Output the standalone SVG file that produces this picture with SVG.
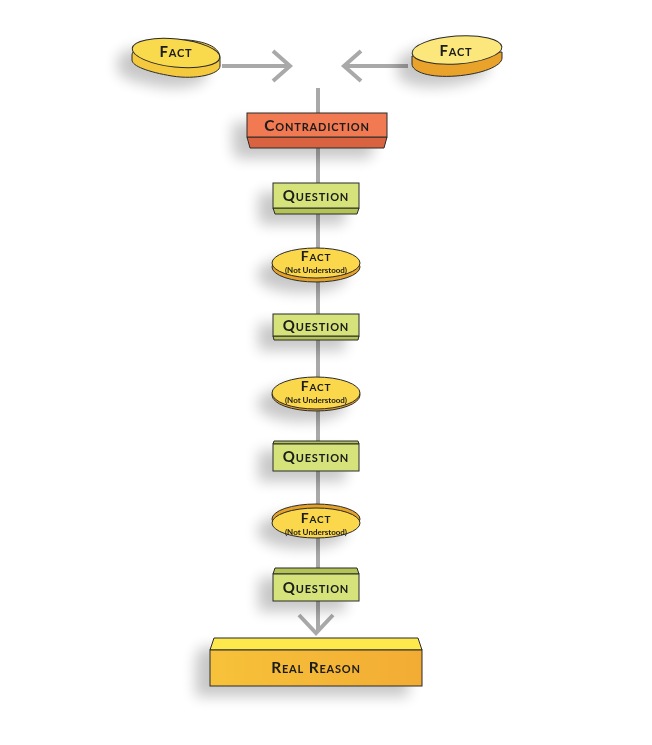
<svg xmlns="http://www.w3.org/2000/svg" width="652" height="745" viewBox="0 0 652 745">
<defs>
<filter id="sh" x="-50%" y="-50%" width="200%" height="250%">
<feGaussianBlur in="SourceAlpha" stdDeviation="7"/>
<feOffset dx="-14" dy="10" result="b"/>
<feComponentTransfer><feFuncA type="linear" slope="0.22"/></feComponentTransfer>
<feMerge><feMergeNode/><feMergeNode in="SourceGraphic"/></feMerge>
</filter>
<linearGradient id="rr" x1="0" y1="0" x2="1" y2="0">
<stop offset="0" stop-color="#f7c23a"/><stop offset="1" stop-color="#f2ac34"/>
</linearGradient>
</defs>
<style>
.t{font-family:"Lato","Liberation Sans",sans-serif;font-weight:bold;font-variant:small-caps;fill:#1a1a1a;text-anchor:middle;letter-spacing:0.8px}
.s{font-family:"Lato","Liberation Sans",sans-serif;font-weight:bold;fill:#1a1a1a;text-anchor:middle;font-size:8px}
.ln{stroke:#a9a9a9;stroke-width:4;fill:none;stroke-linecap:butt}
.ed{stroke:#2a2a2a;stroke-width:1}
.q{fill:#d5e37a}
.qb{fill:#b3c455}
.fy{fill:#fbd84c}
.fo{fill:#e6a228}
</style>
<rect width="652" height="745" fill="#ffffff"/>
<g id="connectors">
<line class="ln" x1="318" y1="88" x2="318" y2="632" stroke="#c4c4c4"/>
<line class="ln" x1="222" y1="66" x2="290" y2="66"/>
<polyline class="ln" points="273,51 290,66 273,81"/>
<line class="ln" x1="408" y1="66" x2="344" y2="66"/>
<polyline class="ln" points="361,51 344,66 361,81"/>
<polyline class="ln" points="299,615 316,633 333,615"/>
</g>
<g id="fact-left" filter="url(#sh)">
<path d="M132,55 C132,45 165,38 188,40 C208,42 220,48 220,58 L220,66 C220,74 196,80 172,76 C148,72 132,66 132,60 Z" fill="#f5c93e" class="ed"/>
<ellipse cx="176" cy="53" rx="44" ry="14" transform="rotate(6 176 53)" fill="#f9da4e" class="ed"/>
<text class="t" x="176" y="57" font-size="15">Fact</text>
</g>
<g id="fact-right" filter="url(#sh)">
<path d="M412,56 L412,64 C412,72 430,78 456,76 C482,74 502,66 502,58 L502,52 Z" fill="#e9a22c" class="ed"/>
<ellipse cx="457" cy="50" rx="45" ry="14" transform="rotate(-4 457 50)" fill="#fbe77c" class="ed"/>
<text class="t" x="456" y="56" font-size="15">Fact</text>
</g>
<g id="contradiction" filter="url(#sh)">
<polygon points="247,137 387,137 384,148 250,148" fill="#d9633f" class="ed"/>
<rect x="247" y="113" width="140" height="24" fill="#f27a52" class="ed"/>
<text class="t" x="317" y="131" font-size="15.5">Contradiction</text>
</g>
<g id="question-1" filter="url(#sh)">
<polygon points="273,208 359,208 357,214 275,214" class="qb ed"/>
<rect x="273" y="183" width="86" height="25" class="q ed"/>
<text class="t" x="316" y="201" font-size="15">Question</text>
</g>
<g id="fact-nu-1" filter="url(#sh)">
<ellipse cx="316" cy="267" rx="44" ry="15" class="fo ed"/>
<ellipse cx="316" cy="263" rx="44" ry="15" class="fy ed"/>
<text class="t" x="316" y="261" font-size="14">Fact</text>
<text class="s" x="316" y="273">(Not Understood)</text>
</g>
<g id="question-2" filter="url(#sh)">
<polygon points="273,336 359,336 358,340 274,340" class="qb ed"/>
<rect x="273" y="314" width="86" height="22" class="q ed"/>
<text class="t" x="316" y="331" font-size="15">Question</text>
</g>
<g id="fact-nu-2" filter="url(#sh)">
<ellipse cx="316" cy="395" rx="44" ry="16" class="fo ed"/>
<ellipse cx="316" cy="393" rx="44" ry="16" class="fy ed"/>
<text class="t" x="316" y="391" font-size="14">Fact</text>
<text class="s" x="316" y="403">(Not Understood)</text>
</g>
<g id="question-3" filter="url(#sh)">
<polygon points="274,441 358,441 359,444 273,444" class="qb ed"/>
<rect x="273" y="444" width="86" height="27" class="q ed"/>
<text class="t" x="316" y="462" font-size="15">Question</text>
</g>
<g id="fact-nu-3" filter="url(#sh)">
<ellipse cx="316" cy="519" rx="44" ry="15" class="fo ed"/>
<ellipse cx="316" cy="523" rx="44" ry="15" class="fy ed"/>
<text class="t" x="316" y="523" font-size="14">Fact</text>
<text class="s" x="316" y="535">(Not Understood)</text>
</g>
<g id="question-4" filter="url(#sh)">
<polygon points="275,568 357,568 359,574 273,574" class="qb ed"/>
<rect x="273" y="574" width="86" height="27" class="q ed"/>
<text class="t" x="316" y="593" font-size="15">Question</text>
</g>
<g id="real-reason" filter="url(#sh)">
<polygon points="214,638 418,638 422,650 210,650" fill="#fde94c" class="ed"/>
<rect x="210" y="650" width="212" height="36" fill="url(#rr)" class="ed"/>
<text class="t" x="316" y="673" font-size="15.5">Real Reason</text>
</g>
</svg>
